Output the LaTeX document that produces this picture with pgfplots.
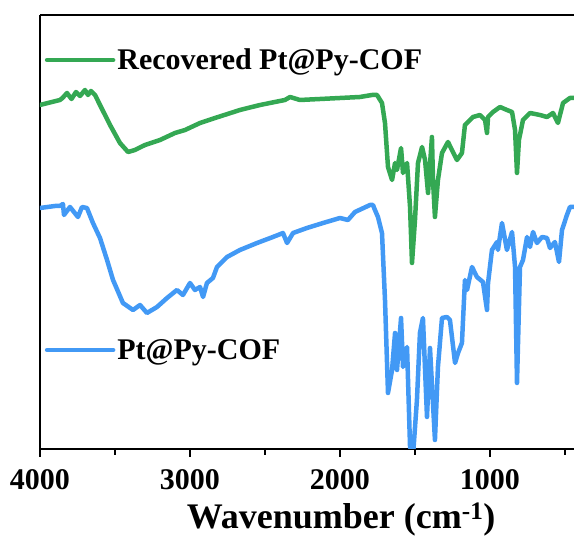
\documentclass[border=0pt]{standalone}
\usepackage{fontspec}
\setmainfont{Liberation Serif}
\usepackage{pgfplots}
\pgfplotsset{compat=1.18}
\definecolor{cgreen}{RGB}{52,168,83}
\definecolor{cblue}{RGB}{66,153,245}
\pgfplotsset{
 base/.style={
  scale only axis, width=534pt, height=434pt,
  at={(0,0)}, anchor=south west,
  xmin=440, xmax=4000, x dir=reverse,
  ymin=96, ymax=530,
  clip=true,
  legend image code/.code={\draw[##1, line width=4.5pt, line cap=round] (0pt,0pt) -- (66pt,0pt);},
  legend style={draw=none, fill=none, anchor=west,
    font=\fontsize{30}{32}\selectfont\bfseries, inner xsep=2pt,
    /tikz/every odd column/.append style={column sep=0pt}},
 },
 curve/.style={line width=4.5pt, line join=round, line cap=round},
}
\begin{document}
\begin{tikzpicture}
\begin{axis}[base, name=ax,
  axis x line=box, axis y line=left,
  axis line style={-, line width=2.2pt},
  xtick={4000,3000,2000,1000}, minor xtick={3500,2500,1500,500},
  xtick pos=bottom, ytick=\empty,
  tick align=outside,
  major tick length=8pt, minor tick length=6pt,
  every tick/.style={line width=2pt, black},
  /pgf/number format/1000 sep={},
  /pgf/number format/assume math mode=true,
  xticklabel style={font=\fontsize{30}{32}\selectfont\bfseries, yshift=-9pt},
  xlabel={\bfseries Wavenumber (cm\textsuperscript{-1})},
  xlabel style={font=\fontsize{36}{38}\selectfont, at={(axis description cs:0.564,0)}, anchor=north, yshift=-50pt},
  legend style={at={(axis description cs:0.005,0.896)}},
]
\addplot[curve, cgreen] coordinates {
(4000,440) (3920,443) (3867,445) (3850,447) (3820,452) (3800,448) (3790,446) (3760,453)
(3733,449) (3700,455) (3680,450) (3660,454) (3633,450) (3600,440) (3533,420) (3467,402)
(3413,393) (3367,395) (3300,400) (3200,405) (3100,412) (3033,415) (2933,422) (2833,427)
(2667,435) (2533,440) (2367,445) (2333,448) (2267,445) (2000,447) (1867,448) (1787,450)
(1753,450) (1720,442) (1700,422) (1680,378) (1653,365) (1633,382) (1620,375) (1593,397)
(1580,372) (1553,382) (1533,338) (1520,282) (1500,325) (1480,382) (1453,398) (1433,385)
(1413,352) (1387,408) (1380,365) (1367,328) (1347,365) (1320,392) (1280,403) (1247,393)
(1220,385) (1187,392) (1167,420) (1113,428) (1067,430) (1033,425) (1020,412) (1013,428)
(980,433) (933,438) (887,435) (853,433) (833,415) (820,372) (807,405) (780,425)
(733,432) (667,430) (620,428) (580,432) (547,422) (513,442) (467,447) (440,447)
};
\addlegendentry{Recovered Pt@Py-COF}
\end{axis}
\begin{axis}[base, axis lines=none, xtick=\empty, ytick=\empty,
  legend style={at={(axis description cs:0.005,0.228)}},
]
\addplot[curve, cblue] coordinates {
(4000,337) (3900,339) (3867,339) (3847,341) (3840,330) (3800,338) (3747,328) (3720,338)
(3687,337) (3647,322) (3600,307) (3553,285) (3513,265) (3447,242) (3380,235) (3333,240)
(3287,232) (3220,238) (3153,247) (3087,255) (3047,250) (3000,262) (2967,255) (2933,258)
(2913,248) (2887,262) (2847,267) (2820,278) (2753,288) (2667,295) (2553,302) (2447,308)
(2380,312) (2353,302) (2313,312) (2220,317) (2113,322) (2000,327) (1947,325) (1900,333)
(1800,340) (1780,340) (1767,335) (1747,328) (1720,312) (1700,245) (1680,152) (1653,175)
(1633,212) (1620,175) (1593,227) (1580,178) (1553,198) (1533,98) (1513,90) (1487,145)
(1467,212) (1447,227) (1420,128) (1400,197) (1367,105) (1347,178) (1320,227) (1287,228)
(1267,225) (1233,182) (1213,192) (1187,202) (1167,265) (1153,255) (1120,278) (1087,268)
(1047,263) (1020,235) (1013,262) (987,295) (953,303) (947,295) (920,322) (887,295)
(853,313) (833,278) (820,162) (800,278) (780,285) (753,308) (733,298) (713,313)
(687,302) (653,308) (620,307) (600,297) (567,303) (540,283) (520,315) (487,330)
(467,338) (440,338)
};
\addlegendentry{Pt@Py-COF}
\end{axis}
\pgfresetboundingbox
\path[use as bounding box] (ax.south west) ++(-40pt,-96pt) rectangle ++(574pt,545pt);
\end{tikzpicture}
\end{document}
